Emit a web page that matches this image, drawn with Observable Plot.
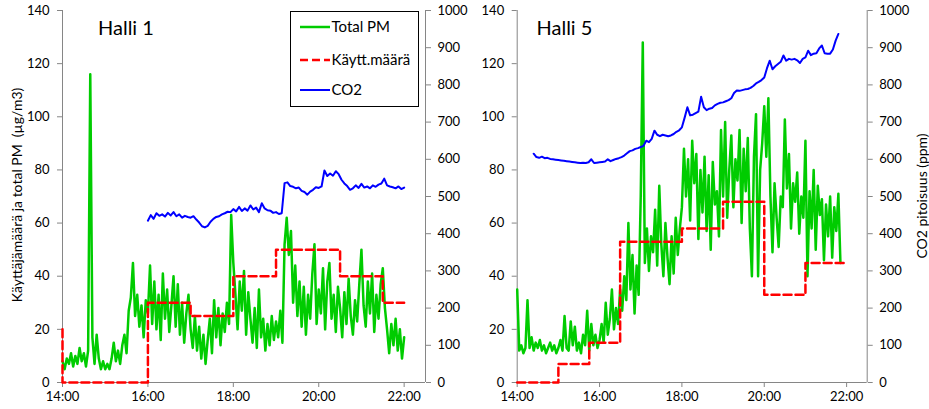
<!DOCTYPE html>
<html>
<head>
<meta charset="utf-8">
<script src="https://cdn.jsdelivr.net/npm/d3@7"></script>
<script src="https://cdn.jsdelivr.net/npm/@observablehq/plot@0.6"></script>
<style>
  html, body { margin: 0; padding: 0; background: #fff; }
  #wrap { position: relative; width: 929px; height: 409px; overflow: hidden; font-family: Lato, "Open Sans", sans-serif; }
  .abs { position: absolute; top: 0; }
  .vlabel { position: absolute; transform: translate(-50%, -50%) rotate(-90deg); white-space: pre; font-size: 14px; color: #000; }
  .title { position: absolute; font-size: 20px; color: #000; white-space: nowrap; }
</style>
</head>
<body>
<div id="wrap"></div>
<script>
// ---------- data ----------
const xTickMinutes = [0, 120, 240, 360, 480];            // minutes after 14:00
const xTickLabels = ["14:00", "16:00", "18:00", "20:00", "22:00"];
const xDomainEnd = 510;                                  // 22:30
const pmTicks = [0, 20, 40, 60, 80, 100, 120, 140];
const co2Ticks = [0, 100, 200, 300, 400, 500, 600, 700, 800, 900, 1000];
const panelTitles = ["Halli 1", "Halli 5"];
const legendLabels = ["Total PM", "Käytt.määrä", "CO2"];
const leftAxisLabel = "Käyttäjämäärä ja total PM  (µg/m3)";
const rightAxisLabel = "CO2 pitoisuus (ppm)";

const pmStepMin = 3;   // PM sampled every 3 min from 14:00
const co2StepMin = 4;  // CO2 sampled every 4 min

// Halli 1 total PM (µg/m3)
const halli1PM = [
  8,5,9,7,11,6,10,7,13,8, 11,6,12,116,17,7,18,9,5,8,
  5,7,5,9,15,8,12,7,14,18, 11,27,32,45,25,33,21,29,17,31,
  26,44,22,38,20,33,16,41,24,35, 19,29,40,21,37,18,30,15,26,33,
  20,13,25,12,21,9,18,7,16,24, 11,31,17,28,14,26,19,30,22,63,
  45,33,20,38,27,42,18,34,24,15, 28,13,35,17,24,12,22,14,25,16,
  23,17,27,15,52,62,48,57,30,44, 25,38,21,36,18,33,24,41,52,22,
  35,26,43,20,38,45,24,33,19,36, 28,17,34,22,39,25,18,31,23,37,
  50,29,21,38,26,41,19,33,24,37, 43,28,20,11,22,14,24,12,20,9,17
];
const halli1CO2Start = 120;
const halli1CO2 = [
  435,450,440,455,448,452,446,456,449,458,
  447,452,443,448,445,443,447,438,430,420,
  417,421,432,440,445,447,452,455,459,458,
  466,460,472,461,468,462,476,465,470,458,
  482,468,463,462,456,458,453,455,536,538,
  528,526,522,524,515,512,505,513,518,525,
  523,527,570,555,562,556,568,560,545,535,
  528,518,522,530,523,534,524,527,522,530,
  526,532,535,548,530,527,525,522,527,520,524
];
const halli1UsersMin = [0, 0, 120, 180, 240, 300, 390, 450, 480];
const halli1Users    = [20, 0, 30, 25, 40, 50, 40, 30, 30];

// Halli 5 total PM (µg/m3)
const halli5PM = [
  35,12,14,11,13,31,13,17,12,15, 13,16,12,14,11,13,15,12,14,11,
  13,16,12,25,13,12,23,14,21,12, 15,11,18,14,27,12,22,14,18,13,
  16,22,15,30,18,24,35,20,28,22, 35,27,40,31,60,35,48,26,44,33,
  70,128,45,58,42,55,49,65,44,74, 52,40,60,47,37,55,41,62,48,58,
  66,88,70,84,61,91,75,86,54,80, 64,85,57,78,50,83,67,72,55,95,
  70,98,62,80,93,66,84,76,95,60, 88,72,92,58,40,85,101,40,80,90,
  104,85,107,70,49,75,62,51,70,66, 99,73,86,58,75,68,79,56,70,62,
  91,40,72,58,80,50,74,63,69,46, 67,55,70,47,66,57,71,45
];
const halli5CO2Start = 24;
const halli5CO2 = [
  615,606,604,607,603,604,601,600,599,598,
  597,596,595,594,593,592,591,590,591,590,
  592,600,590,591,592,593,594,600,595,598,
  601,603,606,610,616,622,624,628,630,633,
  636,650,646,655,677,666,662,666,664,662,
  664,668,674,678,686,712,740,718,720,724,
  728,768,740,732,736,738,745,749,752,753,
  756,759,764,778,785,784,786,788,789,792,
  797,804,808,813,820,845,865,842,850,856,
  862,879,865,870,868,870,866,859,870,874,
  892,880,884,885,898,906,885,884,884,895,
  919,937
];
const halli5UsersMin = [0, 60, 105, 150, 240, 300, 360, 420, 476];
const halli5Users    = [0, 7, 15, 53, 58, 68, 33, 45, 45];

// ---------- styles ----------
const GREEN = "#00cc00", RED = "#ff0000", BLUE = "#0000ff", AXIS = "#868686";
const FONT = "Lato, 'Open Sans', sans-serif";

const toSeries = (vals, start, step) => vals.map((v, i) => ({t: start + i * step, v}));
const toPairs = (ts, vs) => ts.map((t, i) => ({t, v: vs[i]}));
const fmtX = d => xTickLabels[xTickMinutes.indexOf(d)];

const panels = [
  {left: 0, width: 470, mL: 62, mR: 45, pm: halli1PM, co2: halli1CO2, co2Start: halli1CO2Start,
   uT: halli1UsersMin, uV: halli1Users},
  {left: 460, width: 469, mL: 56.7, mR: 62.3, pm: halli5PM, co2: halli5CO2, co2Start: halli5CO2Start,
   uT: halli5UsersMin, uV: halli5Users}
];

const wrap = document.getElementById("wrap");
const H = 409, mT = 10, mB = 27;

panels.forEach((p, k) => {
  const common = {
    width: p.width, height: H, marginLeft: p.mL, marginRight: p.mR, marginTop: mT, marginBottom: mB,
    style: {fontFamily: FONT, fontSize: "12px", color: "#000", background: "transparent", overflow: "visible"}
  };
  const primary = Plot.plot({
    ...common,
    x: {domain: [0, xDomainEnd]},
    y: {domain: [0, 140]},
    marks: [
      Plot.ruleY([0], {stroke: AXIS}),
      Plot.ruleX([0], {stroke: AXIS}),
      Plot.axisX({ticks: xTickMinutes, tickFormat: fmtX, tickSize: 5, tickPadding: 4, stroke: AXIS, fill: "#000", label: null, fontSize: 13}),
      Plot.axisY({anchor: "left", ticks: pmTicks, tickSize: 5, tickPadding: 8, stroke: AXIS, fill: "#000", label: null, fontSize: 13}),
      Plot.line(toSeries(p.pm, 0, pmStepMin), {x: "t", y: "v", stroke: GREEN, strokeWidth: 2.5, strokeLinejoin: "round"}),
      Plot.line(toPairs(p.uT, p.uV), {x: "t", y: "v", curve: "step-after", stroke: RED, strokeWidth: 2.5, strokeDasharray: "8,4"})
    ]
  });
  const secondary = Plot.plot({
    ...common,
    x: {domain: [0, xDomainEnd], axis: null},
    y: {domain: [0, 1000], axis: null},
    marks: [
      Plot.ruleX([xDomainEnd], {stroke: AXIS}),
      Plot.axisY({anchor: "right", ticks: co2Ticks, tickFormat: d => String(d), tickSize: 5, tickPadding: 7, stroke: AXIS, fill: "#000", label: null, fontSize: 13}),
      Plot.line(toSeries(p.co2, p.co2Start, co2StepMin), {x: "t", y: "v", stroke: BLUE, strokeWidth: 2, strokeLinejoin: "round"})
    ]
  });
  [primary, secondary].forEach(svg => {
    svg.classList.add("abs");
    svg.style.left = p.left + "px";
    wrap.appendChild(svg);
  });
});

// titles
const titlePos = [{x: 98, y: 15}, {x: 536.5, y: 15}];
panelTitles.forEach((t, i) => {
  const d = document.createElement("div");
  d.className = "title";
  d.textContent = t;
  d.style.left = titlePos[i].x + "px";
  d.style.top = titlePos[i].y + "px";
  wrap.appendChild(d);
});

// axis labels
const lab1 = document.createElement("div");
lab1.className = "vlabel"; lab1.textContent = leftAxisLabel;
lab1.style.left = "16px"; lab1.style.top = "195px";
wrap.appendChild(lab1);
const lab2 = document.createElement("div");
lab2.className = "vlabel"; lab2.textContent = rightAxisLabel;
lab2.style.left = "921px"; lab2.style.top = "196px";
wrap.appendChild(lab2);

// legend
const ns = "http://www.w3.org/2000/svg";
const lg = document.createElementNS(ns, "svg");
lg.setAttribute("width", 130); lg.setAttribute("height", 97);
lg.style.position = "absolute"; lg.style.left = "290px"; lg.style.top = "11px";
const rect = document.createElementNS(ns, "rect");
rect.setAttribute("x", 0.5); rect.setAttribute("y", 0.5); rect.setAttribute("width", 128); rect.setAttribute("height", 95);
rect.setAttribute("fill", "#fff"); rect.setAttribute("stroke", "#000");
lg.appendChild(rect);
const legendStyles = [
  {c: GREEN, w: 2.5, dash: null, y: 16},
  {c: RED, w: 2.5, dash: "8,4", y: 49},
  {c: BLUE, w: 2, dash: null, y: 79}
];
legendLabels.forEach((txt, i) => {
  const s = legendStyles[i];
  const ln = document.createElementNS(ns, "line");
  ln.setAttribute("x1", 10); ln.setAttribute("x2", 40);
  ln.setAttribute("y1", s.y); ln.setAttribute("y2", s.y);
  ln.setAttribute("stroke", s.c); ln.setAttribute("stroke-width", s.w);
  if (s.dash) ln.setAttribute("stroke-dasharray", s.dash);
  lg.appendChild(ln);
  const tx = document.createElementNS(ns, "text");
  tx.setAttribute("x", 41.5); tx.setAttribute("y", s.y);
  tx.setAttribute("dy", "0.35em");
  tx.setAttribute("font-family", FONT); tx.setAttribute("font-size", 15);
  tx.textContent = txt;
  lg.appendChild(tx);
});
wrap.appendChild(lg);
</script>
</body>
</html>
